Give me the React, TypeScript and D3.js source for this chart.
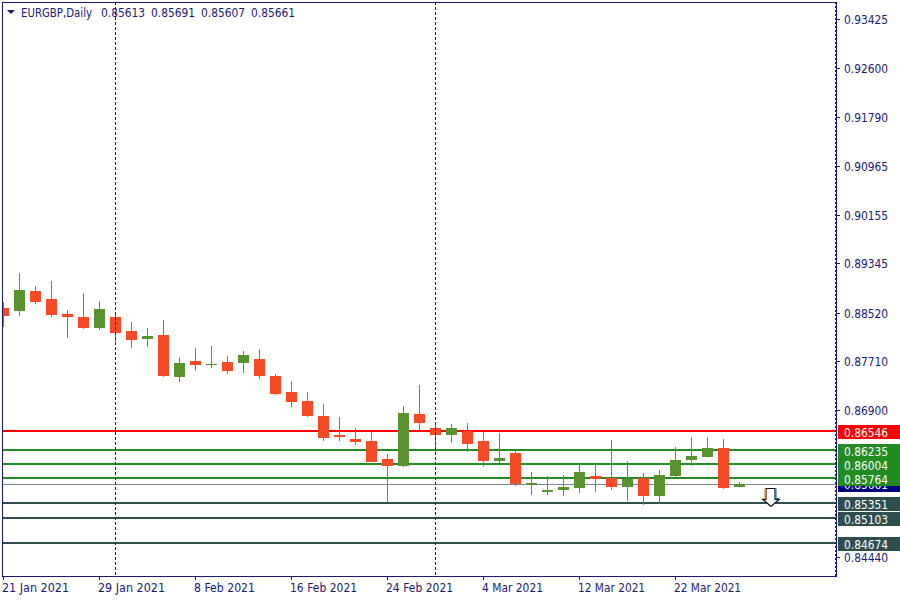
import React from "react";
import * as d3 from "d3";

const opens = [0.88602,0.88552,0.88886,0.88752,0.88502,0.88452,0.88268,0.88452,0.88218,0.88085,0.88152,0.87451,0.87718,0.87651,0.87701,0.87684,0.87751,0.87467,0.872,0.8705,0.868,0.86483,0.86416,0.86383,0.86082,0.85965,0.86833,0.866,0.86483,0.8655,0.86383,0.86049,0.86182,0.85648,0.85532,0.85565,0.85598,0.85799,0.85765,0.85615,0.85765,0.85465,0.85799,0.86066,0.86116,0.86266,0.85613];
const highs = [0.88702,0.89186,0.88969,0.89053,0.88569,0.88852,0.88719,0.88535,0.88369,0.88268,0.88402,0.87784,0.87935,0.87968,0.87801,0.87885,0.87918,0.87501,0.87384,0.872,0.87,0.86783,0.866,0.8655,0.86166,0.86967,0.87317,0.86683,0.86666,0.86683,0.86533,0.86516,0.86249,0.85865,0.85799,0.85815,0.85999,0.85999,0.86399,0.86049,0.85849,0.85899,0.86283,0.86449,0.86449,0.86416,0.85691];
const lows = [0.88285,0.88469,0.88669,0.88452,0.88102,0.88252,0.88235,0.88035,0.87935,0.87951,0.87451,0.87367,0.87551,0.87601,0.87501,0.87518,0.87417,0.8715,0.8695,0.86783,0.86383,0.86383,0.86316,0.86032,0.85365,0.85949,0.8655,0.86182,0.86349,0.86199,0.85949,0.86016,0.85632,0.85482,0.85482,0.85465,0.85515,0.85532,0.85565,0.85381,0.85315,0.85331,0.85765,0.85965,0.86116,0.85582,0.85607];
const closes = [0.88469,0.88903,0.88702,0.88485,0.88452,0.88268,0.88585,0.88185,0.88068,0.88135,0.87467,0.87684,0.87651,0.87668,0.87551,0.87818,0.87467,0.87167,0.87034,0.868,0.86433,0.86449,0.86366,0.86032,0.85965,0.8685,0.86683,0.86483,0.866,0.86333,0.86049,0.86099,0.85665,0.85682,0.85565,0.85615,0.85865,0.85749,0.85615,0.85749,0.85465,0.85815,0.86066,0.86132,0.86266,0.85598,0.85661];

const priceTicks = [0.93425,0.926,0.9179,0.90965,0.90155,0.89345,0.8852,0.8771,0.869,0.8444];
const dateBars = [0, 6, 12, 18, 24, 30, 36, 42];
const dateLabels = ["21 Jan 2021","29 Jan 2021","8 Feb 2021","16 Feb 2021","24 Feb 2021","4 Mar 2021","12 Mar 2021","22 Mar 2021"];
const separatorBars = [7, 27];
const levelPrices = [0.86546,0.86235,0.86004,0.85764,0.85351,0.85103,0.84674];
const levelKinds = ["resistance","support","support","support","target","target","target"];
const title = "EURGBP,Daily";
const ohlc = ["0.85613", "0.85691", "0.85607", "0.85661"];
const lastPrice = 0.85661;
const arrowBar = 48;
const arrowPrice = 0.85351;

const KIND_COLOR: Record<string, string> = { resistance: "#ff0000", support: "#228b22", target: "#2f4f4f" };
const UP = "#5b9230";
const DOWN = "#f54a25";
const NAVY = "#191970";
const FONT = "'DejaVu Sans', Tahoma, sans-serif";
const NUM_W = 44;

const L = 2, R = 836, T = 2, B = 576;

export default function App() {
  const y = d3.scaleLinear().domain([0.93425, 0.869]).range([19, 410]);
  const x = d3.scaleLinear().domain([0, 1]).range([3, 19]);
  const Y = (p: number) => Math.round(y(p));
  const fmt = d3.format(".5f");
  const ax = x(arrowBar);
  const at = Y(arrowPrice);
  return (
    <svg width={900} height={600} style={{ position: "absolute", left: 0, top: 0, background: "#fff" }}
      fontFamily={FONT} fontSize={12} shapeRendering="crispEdges">
      <defs>
        <clipPath id="plot"><rect x={L + 1} y={T + 1} width={R - L - 1} height={B - T - 1} /></clipPath>
      </defs>
      <g clipPath="url(#plot)">
        {levelPrices.map((p, i) => (
          <rect key={p} x={L} y={Y(p) - 1} width={R - L} height={2} fill={KIND_COLOR[levelKinds[i]]} />
        ))}
        <rect x={L} y={Y(lastPrice)} width={R - L} height={1} fill="#778899" />
        {opens.map((o, i) => {
          const c = closes[i];
          const col = c >= o ? UP : DOWN;
          const top = Y(Math.max(o, c));
          const bot = Y(Math.min(o, c));
          const cx = Math.round(x(i));
          return (
            <g key={i} fill={col}>
              <rect x={cx} y={Y(highs[i])} width={1} height={Y(lows[i]) - Y(highs[i])} />
              <rect x={cx - 5} y={top} width={11} height={Math.max(bot - top, 1)} />
            </g>
          );
        })}
        {separatorBars.map((s) => (
          <line key={s} x1={Math.round(x(s)) + 0.5} x2={Math.round(x(s)) + 0.5} y1={T} y2={B - 1}
            stroke={NAVY} strokeWidth={1} strokeDasharray="3 2" />
        ))}
        <g shapeRendering="geometricPrecision" strokeWidth={1.2} fill="none">
          <path d={`M${ax - 5} ${at - 14.5}H${ax + 4}V${at - 3.5}H${ax + 8}L${ax} ${at + 3.5}L${ax - 8} ${at - 3.5}H${ax - 5}Z`} fill="#fff" stroke="#111" />
          <path d={`M${ax - 6} ${at - 14.5}V${at - 4.5}H${ax - 9}`} stroke="#f0922e" />
          <path d={`M${ax + 5} ${at - 14.5}V${at - 4.5}H${ax + 8.5}`} stroke="#1f74c4" />
        </g>
      </g>
      <rect x={L + 0.5} y={T + 0.5} width={R - L - 0.5} height={B - T} fill="none" stroke={NAVY} strokeWidth={1} />
      <line x1={R - 0.5} x2={R - 0.5} y1={T} y2={B} stroke={NAVY} strokeWidth={1} strokeDasharray="2 2" />

      {priceTicks.map((p) => (
        <g key={p}>
          <rect x={R} y={Y(p)} width={4} height={1} fill={NAVY} />
          <text x={844} y={Y(p) + 4.5} fill={NAVY} textLength={NUM_W} lengthAdjust="spacingAndGlyphs">{fmt(p)}</text>
        </g>
      ))}
      {dateBars.map((b, i) => (
        <g key={b}>
          <rect x={Math.round(x(b))} y={B} width={1} height={4} fill={NAVY} />
          <text x={Math.round(x(b)) - 1} y={592} fill={NAVY} textLength={dateLabels[i].length * 6.1} lengthAdjust="spacingAndGlyphs">{dateLabels[i]}</text>
        </g>
      ))}

      <rect x={838} y={Y(lastPrice)} width={62} height={8} fill="#000080" />
      <text x={844} y={Y(lastPrice) + 5} fill="#fff" textLength={NUM_W} lengthAdjust="spacingAndGlyphs">{fmt(lastPrice)}</text>
      {levelPrices.map((p, i) => (
        <g key={p}>
          <rect x={838} y={Y(p) - 6} width={62} height={14} fill={KIND_COLOR[levelKinds[i]]} />
          <text x={844} y={Y(p) + 5.5} fill="#fff" textLength={NUM_W} lengthAdjust="spacingAndGlyphs">{fmt(p)}</text>
        </g>
      ))}

      <path d="M7 10H15L11 14Z" fill={NAVY} shapeRendering="geometricPrecision" />
      <text x={21} y={17} fill={NAVY} textLength={71} lengthAdjust="spacingAndGlyphs">{title}</text>
      {ohlc.map((v, i) => (
        <text key={v} x={101 + i * 50} y={17} fill={NAVY} textLength={NUM_W} lengthAdjust="spacingAndGlyphs">{v}</text>
      ))}
    </svg>
  );
}
